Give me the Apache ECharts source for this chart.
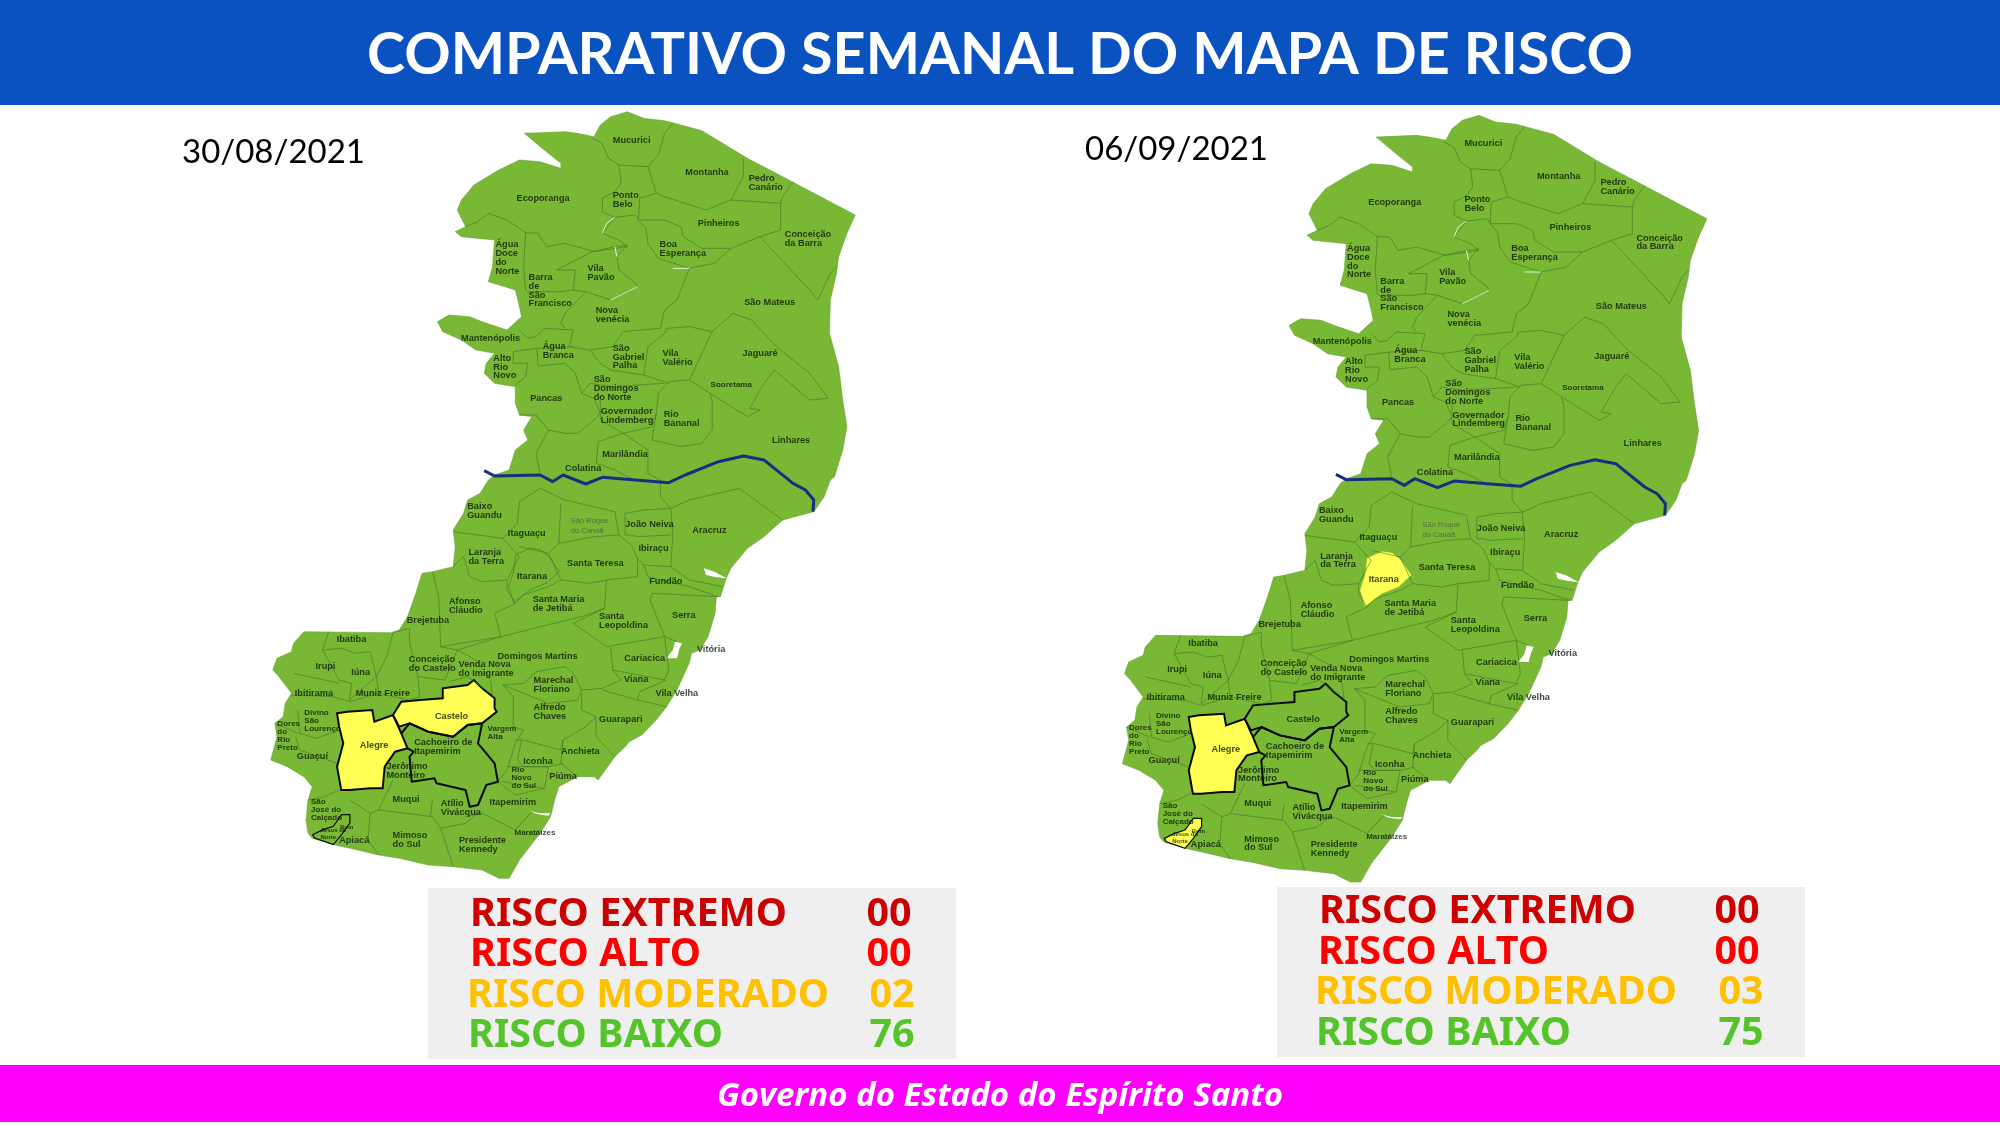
<!DOCTYPE html>
<html>
<head>
<meta charset="utf-8">
<style>html,body{margin:0;padding:0;background:#fff}#chart{width:2000px;height:1125px}</style>
<script src="https://cdn.jsdelivr.net/npm/echarts@6/dist/echarts.min.js"></script>
</head>
<body>
<div id="chart"></div>
<script>
var TITLE = "COMPARATIVO SEMANAL DO MAPA DE RISCO";
var FOOTER = "Governo do Estado do Espírito Santo";
var DATES = ["30/08/2021", "06/09/2021"];
var RISK_LABELS = ["RISCO EXTREMO", "RISCO ALTO", "RISCO MODERADO", "RISCO BAIXO"];
var COUNTS_WEEK1 = ["00", "00", "02", "76"];
var COUNTS_WEEK2 = ["00", "00", "03", "75"];
var RISK_COLORS = ["#cc0000", "#ff0000", "#ffc000", "#55c42b"];
var YELLOW_WEEK1 = ["Alegre", "Castelo"];
var YELLOW_WEEK2 = ["Alegre", "Itarana", "Bom Jesus do Norte"];

// map grid is not square: x unit = 0.4145 px, y unit = 1/3 px. the south half was read with y counted from 1140
var UNIT_X = 650 / 1568;
var UNIT_Y = 1 / 3;
function south(pts) {
    return pts.map(function (p) { return [p[0], p[1] + 1140]; });
}

var OUTLINE_NE = [[662,100],[700,98],[760,95],[790,100],[830,110],[845,75],[870,50],[910,35],[950,55],[1000,62],[1040,75],[1090,92],[1130,122],[1200,175],[1300,240],[1460,345],[1440,400],[1420,470],[1415,520],[1400,600],[1398,700],[1420,800],[1430,900],[1440,980],[1430,1050],[1410,1130]];
var OUTLINE_S = south([[1400,0],[1385,50],[1360,95],[1285,120],[1240,170],[1200,205],[1160,265],[1148,298],[1135,350],[1125,350],[1122,400],[1105,470],[1085,510],[1065,520],[1060,548],[1030,630],[1005,680],[980,720],[945,765],[915,785],[905,800],[880,830],[840,900],[830,890],[790,890],[745,920],[735,960],[725,1010],[700,1060],[650,1140],[625,1195],[600,1195],[560,1170],[490,1160],[430,1155],[360,1135],[310,1125],[260,1110],[205,1095],[150,1075],[140,1060],[135,1020],[140,960],[150,920],[130,890],[90,860],[50,840],[65,770],[60,730],[80,710],[85,670],[100,640],[70,590],[55,570],[65,535],[100,515],[105,490],[130,455],[340,458],[360,450],[380,410],[400,340],[415,280],[440,275],[490,260],[495,200],[490,150],[515,100],[525,60],[555,40],[575,0]]);
var OUTLINE_NW = [[590,1125],[625,1110],[640,1050],[670,1020],[660,990],[680,950],[650,945],[640,910],[640,860],[590,850],[565,820],[570,790],[590,760],[545,750],[510,720],[465,695],[452,665],[480,645],[530,650],[560,665],[620,690],[655,650],[650,620],[640,570],[575,545],[585,500],[590,420],[510,410],[495,395],[520,380],[500,330],[510,300],[540,255],[600,210],[650,180],[700,185],[750,205],[750,190],[700,140]];

var ALEGRE = south([[210,700],[235,695],[295,690],[300,725],[345,705],[365,760],[380,805],[350,815],[325,860],[320,925],[290,925],[240,930],[220,930],[210,860],[225,790],[215,740]]);
var CASTELO = south([[345,705],[365,665],[410,660],[465,655],[465,625],[525,615],[540,600],[560,625],[590,655],[590,685],[595,695],[560,730],[525,735],[490,770],[430,755],[385,730],[360,740]]);
var ITARANA = south([[676,204],[701,209],[721,229],[746,274],[716,309],[676,329],[636,367],[624,319],[636,274],[641,224]]);
var BOM_JESUS = south([[151,1064],[176,1049],[201,1039],[221,1004],[241,1004],[241,1029],[221,1064],[201,1094],[156,1074]]);
var BAY_VITORIA = south([[1005,535],[1020,510],[1025,485],[1042,490],[1035,510],[1030,535]]);
var BAY_PIRAQUE = south([[1095,265],[1120,275],[1150,295],[1125,292],[1100,285]]);
var BAY_ITAPEMIRIM = south([[672,992],[700,1000],[725,1000],[720,1007],[695,1003]]);

var CACHOEIRO_BOLD = [south([[365,760],[385,730],[430,755],[490,770],[525,735],[560,730],[550,790],[590,850],[598,905],[570,915],[550,975],[530,980],[520,930],[450,910],[445,895],[390,905],[385,830],[395,815],[380,805]])];

var RIVER = [[565,1112],[590,1128],[700,1125],[730,1145],[755,1125],[810,1152],[850,1132],[930,1140],[1010,1148],[1050,1125],[1130,1085],[1190,1068],[1240,1080],[1280,1120],[1310,1150],[1340,1170],[1360,1200],[1358,1235]];
var WHITE_LINES = [[[850,400],[860,370],[880,352]],[[880,440],[885,470]],[[870,600],[935,560]],[[1020,505],[1060,505]]];

var BORDERS_NORTH = [
    [[825,115],[850,130],[865,175],[890,195],[960,200],[985,165],[1000,100],[1020,70]],
    [[890,195],[895,250],[880,275],[850,295],[850,335],[880,352],[930,345],[938,360]],
    [[960,200],[980,280],[1000,290],[1100,330],[1160,300],[1190,230],[1190,175]],
    [[980,280],[940,295],[937,360],[955,385]],
    [[1160,300],[1280,310],[1285,290],[1310,245]],
    [[1280,310],[1280,390],[1230,410],[1160,445],[1090,445],[1045,410],[1040,380],[1000,360],[940,360]],
    [[1230,410],[1350,570],[1370,600],[1400,520],[1415,500]],
    [[955,385],[960,430],[985,475],[1060,505],[1120,490],[1160,445]],
    [[1060,505],[1030,600],[1000,630],[990,685],[900,695],[875,740],[820,750],[770,740],[780,690],[710,685],[690,710],[670,715],[650,690]],
    [[740,510],[825,455],[880,440],[910,435],[885,470],[890,510],[930,550],[935,560],[870,600],[810,575],[780,570],[785,510],[740,510]],
    [[880,352],[850,400],[890,420],[910,440],[830,455],[760,430],[715,440],[695,400],[665,398],[660,500],[665,570],[670,575],[750,575],[780,570]],
    [[665,398],[620,360],[575,340],[550,365],[520,380]],
    [[810,575],[760,640],[750,670],[760,685]],
    [[692,745],[695,798],[760,790],[785,820],[800,880],[830,895],[845,940]],
    [[780,740],[692,745],[635,755],[635,790],[670,790],[665,830],[640,855]],
    [[820,750],[845,790],[870,810],[950,825],[1010,850]],
    [[1005,685],[1000,700],[960,740],[950,825]],
    [[1115,695],[1060,840],[1010,845]],
    [[1005,685],[1060,680],[1115,695],[1165,640],[1210,660],[1270,740],[1350,820],[1395,895],[1350,900],[1265,810],[1240,850],[1205,925],[1230,930],[1200,950],[1110,880],[1060,840]],
    [[1010,845],[985,880],[980,940],[970,1020],[1040,1040],[1090,1030],[1115,990],[1115,905],[1110,880]],
    [[800,880],[820,850],[870,860],[1000,850]],
    [[845,900],[845,960],[900,1000],[970,980],[980,940]],
    [[900,1000],[840,1025],[835,1090],[880,1110],[920,1135]],
    [[900,1000],[960,1050],[960,1120],[1000,1148]],
    [[700,1120],[690,1060],[720,990],[760,1000],[790,1000],[830,960],[845,940]],
    [[650,945],[690,945],[720,990]]
];
var BORDERS_SOUTH = [
    [[700,25],[650,65],[645,130],[610,175],[490,155]],
    [[610,175],[650,230],[620,300],[560,305],[530,290],[515,230],[490,260]],
    [[650,200],[720,220],[750,300],[720,320],[660,345],[640,370],[620,330],[620,300]],
    [[750,70],[745,190],[720,220]],
    [[700,25],[760,60],[880,95],[890,165],[830,170],[745,190]],
    [[890,165],[920,195],[935,235],[935,290],[860,300],[820,310],[750,300]],
    [[905,100],[950,90],[1015,85],[1020,165],[1015,260],[950,255],[935,235]],
    [[905,100],[905,165],[920,165],[935,170],[1015,165]],
    [[1015,85],[1060,60],[1180,25],[1285,120]],
    [[990,0],[990,50],[1015,85]],
    [[950,255],[960,290],[1060,320],[1130,350]],
    [[1015,260],[1060,300],[1140,320]],
    [[640,370],[590,400],[605,470],[700,440],[800,410],[855,385],[860,300]],
    [[440,275],[455,350],[460,500],[605,470]],
    [[855,385],[780,430],[860,500],[1000,470],[965,360],[970,340]],
    [[970,340],[1130,350]],
    [[1000,470],[1030,485]],
    [[870,500],[875,570],[895,600],[850,625],[800,630],[780,580],[760,560],[690,575],[660,610],[610,615]],
    [[875,570],[1000,600],[1010,570],[1000,470]],
    [[850,630],[935,660],[1005,680]],
    [[1005,600],[940,635],[935,660]],
    [[610,615],[680,650],[720,670],[790,660],[800,630]],
    [[800,640],[800,690],[835,710],[810,740],[755,780],[750,810],[660,780],[640,780]],
    [[835,710],[835,770],[880,830]],
    [[755,780],[750,850],[780,880],[790,890]],
    [[610,615],[635,650],[635,740],[660,750],[640,790],[620,870],[598,905]],
    [[655,780],[645,840],[660,860],[720,860],[755,850]],
    [[620,860],[720,860],[710,925],[610,905]],
    [[710,925],[640,945],[598,905]],
    [[520,1010],[560,1000],[640,1050],[680,995]],
    [[460,1045],[490,1160]],
    [[460,1045],[520,1030],[550,1000]],
    [[310,990],[290,1000],[285,1080],[310,1125]],
    [[310,990],[440,1010],[460,1045]],
    [[345,900],[310,990]],
    [[440,960],[435,1010]],
    [[345,458],[330,530],[305,590],[310,640]],
    [[190,455],[175,510],[220,505],[255,520],[290,515],[305,590],[240,660],[245,610],[215,600],[175,510]],
    [[105,580],[180,600],[215,610]],
    [[100,645],[200,650],[240,665]],
    [[240,665],[310,640],[385,660],[410,650],[405,590],[385,490],[385,445],[345,458]],
    [[115,690],[120,760],[160,775],[215,750]],
    [[60,730],[115,760]],
    [[110,770],[120,810],[210,850]],
    [[215,930],[180,950],[140,960]],
    [[240,960],[290,1000]],
    [[405,590],[470,600],[500,510],[545,540],[580,600],[585,650]],
    [[460,500],[500,510],[605,470]],
    [[480,605],[525,590],[580,640]]
];

var NAMES_NORTH = [
    ["Mucurici",875,120],["Montanha",1050,217],["Pedro\nCanário",1203,249],["Ecoporanga",643,296],["Ponto\nBelo",875,300],
    ["Pinheiros",1080,370],["Conceição\nda Barra",1290,416],["Boa\nEsperança",988,448],["Água\nDoce\ndo\nNorte",592,474],
    ["Barra\nde\nSão\nFrancisco",672,572],["Vila\nPavão",814,519],["Nova\nvenécia",834,646],["São Mateus",1192,607],
    ["Mantenópolis",509,714],["Água\nBranca",706,753],["São\nGabriel\nPalha",875,771],["Vila\nValério",995,774],
    ["Jaguaré",1188,759],["Alto\nRio\nNovo",587,801],["Sooretama",1111,853],["Pancas",676,895],
    ["São\nDomingos\ndo Norte",829,866],["Governador\nLindemberg",846,947],["Rio\nBananal",998,958],["Linhares",1259,1020],
    ["Marilândia",850,1062],["Colatina",760,1105]
];
var NAMES_SOUTH = [
    ["Baixo\nGuandu",524,93],["Itaguaçu",622,161],["São Roque\ndo Canaã",774,139],["João Neiva",905,133],["Aracruz",1067,152],
    ["Ibiraçu",937,206],["Laranja\nda Terra",527,230],["Santa Teresa",765,251],["Itarana",644,288],["Fundão",963,305],
    ["Afonso\nCláudio",480,378],["Santa Maria\nde Jetibá",682,372],["Santa\nLeopoldina",842,424],["Serra",1018,405],
    ["Brejetuba",378,421],["Vitória",1078,508],["Ibatiba",209,478],["Conceição\ndo Castelo",383,553],
    ["Venda Nova\ndo Imigrante",503,567],["Domingos Martins",597,528],["Cariacica",903,536],["Irupi",158,558],["Iúna",244,576],
    ["Viana",902,597],["Marechal\nFloriano",684,616],["Ibitirama",108,640],["Muniz Freire",255,641],["Vila Velha",978,641],
    ["Alfredo\nChaves",684,697],["Guarapari",842,717],["Divino\nSão\nLourenço",131,721],["Castelo",446,708],["Alegre",265,797],
    ["Vargem\nAlta",573,757],["Dores\ndo\nRio\nPreto",66,768],["Cachoeiro de\nItapemirim",396,802],["Guaçuí",113,829],
    ["Anchieta",750,814],["Iconha",659,843],["Jerônimo\nMonteiro",329,872],["Rio\nNovo\ndo Sul",631,892],["Piúma",722,888],
    ["Muqui",344,958],["Atílio\nVivácqua",460,985],["Itapemirim",578,968],["São\nJosé do\nCalçado",147,989],
    ["Bom",217,1042],["Jesus do\nNorte",170,1062],["Apiacá",215,1082],["Mimoso\ndo Sul",344,1079],["Maratáizes",638,1059],["Presidente\nKennedy",504,1096]
];
var SMALL_NAMES = ["Divino\nSão\nLourenço", "Vargem\nAlta", "Dores\ndo\nRio\nPreto", "Rio\nNovo\ndo Sul", "São\nJosé do\nCalçado", "Maratáizes", "Sooretama"];
var TINY_NAMES = ["Bom", "Jesus do\nNorte"];

var GREEN = "#78b834";
var outline = OUTLINE_NE.concat(OUTLINE_S, OUTLINE_NW);
var allPts = outline.concat(RIVER);
var xs = allPts.map(function (p) { return p[0]; });
var ys = allPts.map(function (p) { return p[1]; });
var box = [[Math.min.apply(null, xs), Math.min.apply(null, ys)], [Math.max.apply(null, xs), Math.max.apply(null, ys)]];

function feature(name, ring) {
    return {type: "Feature", properties: {name: name}, geometry: {type: "Polygon", coordinates: [ring.concat([ring[0]])]}};
}

echarts.registerMap("es", {type: "FeatureCollection", features: [
    feature("Estado", outline),
    feature("Alegre", ALEGRE), feature("Castelo", CASTELO), feature("Itarana", ITARANA), feature("Bom Jesus do Norte", BOM_JESUS),
    feature("Baia1", BAY_VITORIA), feature("Baia2", BAY_PIRAQUE), feature("Baia3", BAY_ITAPEMIRIM)
]});

function geoFor(originX, originY, yellow) {
    var boldOnes = {"Alegre": 2, "Castelo": 2, "Bom Jesus do Norte": 1.2};
    var regions = ["Alegre", "Castelo", "Itarana", "Bom Jesus do Norte"].map(function (n) {
        return {
            name: n,
            itemStyle: {
                areaColor: yellow.indexOf(n) >= 0 ? "#ffff55" : GREEN,
                borderColor: boldOnes[n] ? "#0a0a0a" : (yellow.indexOf(n) >= 0 ? "#ffff55" : "#44702a"),
                borderWidth: boldOnes[n] || 0.6
            }
        };
    });
    ["Baia1", "Baia2", "Baia3"].forEach(function (n) {
        regions.push({name: n, itemStyle: {areaColor: "#fff", borderColor: "#fff", borderWidth: 0}});
    });
    return {
        map: "es",
        silent: true,
        roam: false,
        aspectScale: 1,
        projection: {
            project: function (p) { return [p[0] * UNIT_X, p[1] * UNIT_Y]; },
            unproject: function (p) { return [p[0] / UNIT_X, p[1] / UNIT_Y]; }
        },
        boundingCoords: box,
        left: originX + box[0][0] * UNIT_X,
        top: originY + box[0][1] * UNIT_Y,
        width: (box[1][0] - box[0][0]) * UNIT_X,
        height: (box[1][1] - box[0][1]) * UNIT_Y,
        label: {show: false},
        itemStyle: {areaColor: GREEN, borderColor: "#5e9a2c", borderWidth: 0.5},
        regions: regions
    };
}

function linesSeries(geoIndex, paths, color, width, z) {
    return {
        type: "lines", coordinateSystem: "geo", geoIndex: geoIndex, polyline: true, silent: true, z: z,
        lineStyle: {color: color, width: width, opacity: 1, join: "round"},
        data: paths.map(function (p) { return {coords: p}; })
    };
}

function labelSeries(geoIndex) {
    var data = NAMES_NORTH.concat(NAMES_SOUTH.map(function (n) { return [n[0], n[1], n[2] + 1140]; })).map(function (n) {
        var item = {name: n[0], value: [n[1], n[2]]};
        if (SMALL_NAMES.indexOf(n[0]) >= 0) item.label = {fontSize: 8, lineHeight: 8};
        if (TINY_NAMES.indexOf(n[0]) >= 0) item.label = {fontSize: 6, lineHeight: 6.5};
        if (n[0].indexOf("São Roque") === 0) item.label = {fontSize: 7.5, lineHeight: 10, fontWeight: "normal", color: "#44603a"};
        return item;
    });
    return {
        type: "scatter", coordinateSystem: "geo", geoIndex: geoIndex, symbolSize: 0, silent: true, z: 6,
        label: {
            show: true, position: "right", distance: 0, align: "left", formatter: "{b}",
            fontFamily: "Liberation Sans", fontWeight: "bold", fontSize: 9.2, lineHeight: 8.8, color: "#0d1a08"
        },
        data: data
    };
}

function mapSeries(geoIndex) {
    return [
        linesSeries(geoIndex, BORDERS_NORTH.concat(BORDERS_SOUTH.map(south)), "#44702a", 0.6, 3),
        linesSeries(geoIndex, WHITE_LINES, "#ffffff", 0.8, 3),
        linesSeries(geoIndex, CACHOEIRO_BOLD, "#0a0a0a", 2, 4),
        linesSeries(geoIndex, [RIVER], "#14307f", 3, 5),
        labelSeries(geoIndex)
    ];
}

function legendGraphics(panel, textXs, numX, rowYs, counts) {
    var out = [{type: "rect", z: 1, shape: panel, style: {fill: "#efefef"}}];
    RISK_LABELS.forEach(function (label, i) {
        var font = "bold 39.5px 'Noto Sans'";
        out.push({type: "text", z: 2, x: textXs[i], y: rowYs[i], style: {text: label, fill: RISK_COLORS[i], font: font, verticalAlign: "middle", align: "left"}});
        out.push({type: "text", z: 2, x: numX[i], y: rowYs[i], style: {text: counts[i], fill: RISK_COLORS[i], font: font, verticalAlign: "middle", align: "center"}});
    });
    return out;
}

var graphics = [
    {type: "rect", z: 1, shape: {x: 0, y: 0, width: 2000, height: 105}, style: {fill: "#0a52c0"}},
    {type: "text", z: 2, x: 1000, y: 55, style: {text: TITLE, fill: "#fff", font: "bold 57.5px Lato", align: "center", verticalAlign: "middle"}},
    {type: "text", z: 2, x: 182, y: 152, style: {text: DATES[0], fill: "#000", font: "33px Lato", verticalAlign: "middle"}},
    {type: "text", z: 2, x: 1085, y: 149, style: {text: DATES[1], fill: "#000", font: "33px Lato", verticalAlign: "middle"}},
    {type: "rect", z: 1, shape: {x: 0, y: 1065, width: 2000, height: 57}, style: {fill: "#ff00ff"}},
    {type: "text", z: 2, x: 1000, y: 1097, style: {text: FOOTER, fill: "#fff", font: "italic bold 33px 'Open Sans'", align: "center", verticalAlign: "middle"}}
].concat(
    legendGraphics({x: 428, y: 888, width: 528, height: 171}, [470, 470, 467, 468], [889, 889, 892, 892], [915, 955, 996, 1036], COUNTS_WEEK1),
    legendGraphics({x: 1277, y: 887, width: 528, height: 170}, [1319, 1318, 1315, 1316], [1737, 1737, 1741, 1741], [912, 953, 993, 1034], COUNTS_WEEK2)
);

var chart = echarts.init(document.getElementById("chart"));
chart.setOption({
    animation: false,
    backgroundColor: "#fff",
    graphic: graphics,
    geo: [geoFor(250, 100, YELLOW_WEEK1), geoFor(1101.7, 103.7, YELLOW_WEEK2)],
    series: mapSeries(0).concat(mapSeries(1))
});
</script>
</body>
</html>
